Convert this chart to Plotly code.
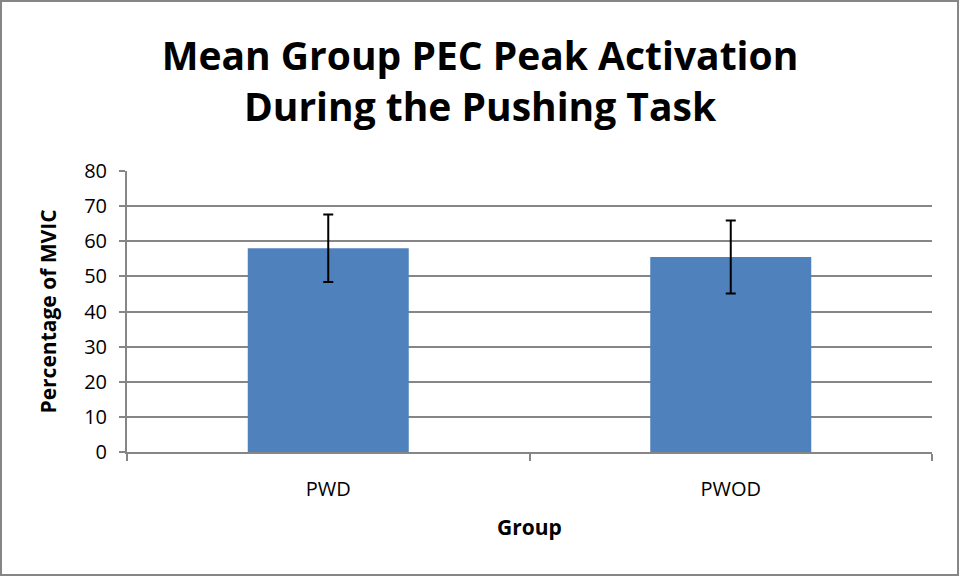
import plotly.graph_objects as go

groups = ["PWD", "PWOD"]
mean_activation = [58.0, 55.5]
std_error = [9.6, 10.4]

W, H = 960, 577
L, R, T, B = 127, 28, 171, 125
pw = W - L - R
ph = H - T - B

fig = go.Figure()

fig.add_trace(go.Bar(
    x=groups,
    y=mean_activation,
    marker=dict(color="#4F81BD", line=dict(color="#4F81BD", width=0)),
    error_y=dict(type="data", array=std_error, visible=True,
                 color="black", thickness=2, width=5),
    name="Mean",
))

fig.update_layout(
    width=W, height=H,
    margin=dict(l=L, r=R, t=T, b=B),
    paper_bgcolor="white",
    plot_bgcolor="white",
    showlegend=False,
    bargap=0.6,
    font=dict(family="Open Sans", color="black"),
    title=dict(
        text="<b>Mean Group PEC Peak Activation<br>During the Pushing Task</b>",
        x=0.5, xanchor="center",
        y=1 - 70 / H, yanchor="middle",
        font=dict(family="Open Sans", size=39, color="black"),
    ),
    xaxis=dict(
        title=dict(text="<b>Group</b>", font=dict(size=21), standoff=19),
        tickfont=dict(size=20),
        ticklabelstandoff=18,
        showline=True, linecolor="#868686", linewidth=2,
        ticks="outside", tickson="boundaries", ticklen=7,
        tickcolor="#868686", tickwidth=2,
        showgrid=False,
    ),
    yaxis=dict(
        title=dict(text="<b>Percentage of MVIC</b>", font=dict(size=21), standoff=22),
        range=[0, 80], dtick=10,
        tickfont=dict(size=20),
        ticklabelstandoff=8,
        showline=True, linecolor="#868686", linewidth=2,
        ticks="outside", ticklen=6, tickcolor="#868686", tickwidth=2,
        showgrid=True, gridcolor="#868686", gridwidth=2,
        zeroline=False,
    ),
)

# outer chart frame
fig.add_shape(
    type="rect", xref="paper", yref="paper",
    x0=(1 - L) / pw, x1=(W - 2 - L) / pw,
    y0=-(B - 2) / ph, y1=1 + (T - 1) / ph,
    line=dict(color="#868686", width=2), fillcolor="rgba(0,0,0,0)",
    layer="below",
)

fig.write_html("out.html", config={"displayModeBar": False},
               post_script="document.body.style.margin='0';")
